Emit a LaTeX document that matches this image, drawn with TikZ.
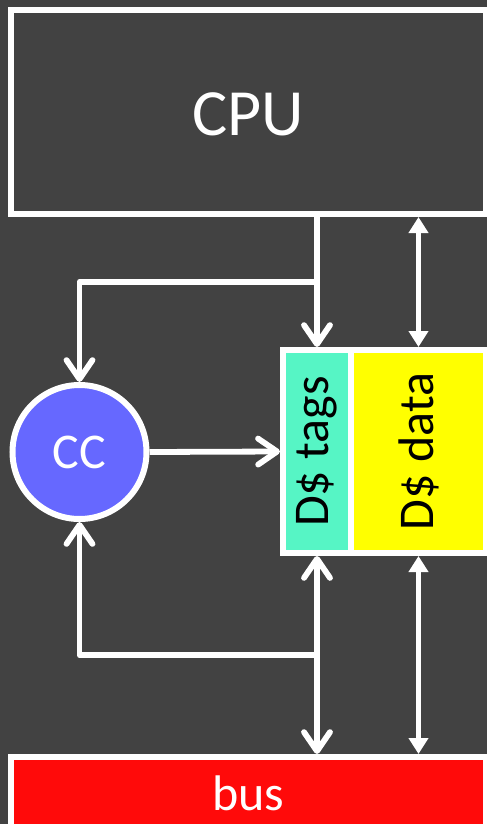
\documentclass[tikz,border=0pt]{standalone}
\usepackage{fontspec}
\setmainfont{Carlito}
\usetikzlibrary{arrows.meta}
\definecolor{bg}{RGB}{66,66,66}
\definecolor{ccblue}{RGB}{102,104,255}
\definecolor{tagsc}{RGB}{86,245,197}
\definecolor{datac}{RGB}{255,255,0}
\definecolor{busc}{RGB}{255,10,10}
\tikzset{
  box/.style={draw=white, line width=6pt, inner sep=0pt, rectangle},
  wire/.style={draw=white, line width=5.8pt},
  openarr/.style={-{Straight Barb[length=19pt,width=26pt,round]}},
  openboth/.style={{Straight Barb[length=19pt,width=26pt,round]}-{Straight Barb[length=19pt,width=26pt,round]}},
  triboth/.style={{Triangle[length=16pt,width=19pt]}-{Triangle[length=16pt,width=19pt]}},
}
\begin{document}
\begin{tikzpicture}[x=1pt,y=-1pt]
\fill[bg] (0,0) rectangle (487,824);
\useasboundingbox (0,0) rectangle (487,824);
\node[box, fill=bg, minimum width=475pt, minimum height=204pt, text=white, text height=48pt, font=\fontsize{66}{66}\selectfont] (cpu) at (248.5,112) {CPU};
\node[box, fill=tagsc, minimum width=68pt, minimum height=203pt,
  label={[rotate=90, font=\fontsize{50}{50}\selectfont, text=black]center:D\$ tags}] (tags) at (317,451.5) {};
\node[box, fill=datac, minimum width=135pt, minimum height=203pt,
  label={[rotate=90, font=\fontsize{50}{50}\selectfont, text=black]center:D\$ data}] (data) at (418.5,451.5) {};
\node[draw=white, line width=6pt, circle, fill=ccblue, minimum size=134pt, inner sep=0pt, text=white, font=\fontsize{50}{50}\selectfont] (cc) at (79.5,452) {CC};
\node[box, fill=busc, minimum width=475pt, minimum height=73pt, text=white, font=\fontsize{50}{50}\selectfont] (bus) at (248.5,793.5) {bus};
\coordinate (j1) at (317,282);
\coordinate (j2) at (317,655);
\draw[wire, openarr] (cpu.south -| tags.north) -- (tags.north);
\draw[wire, openarr, line join=round] (j1) -| (cc.north);
\draw[wire, openarr] (cc.east) -- (tags.west);
\draw[wire, triboth] (cpu.south -| data.north) -- (data.north);
\draw[wire, openboth] (tags.south) -- (tags.south |- bus.north);
\draw[wire, openarr, line join=round] (j2) -| (cc.south);
\draw[wire, triboth] (data.south) -- (data.south |- bus.north);
\end{tikzpicture}
\end{document}
